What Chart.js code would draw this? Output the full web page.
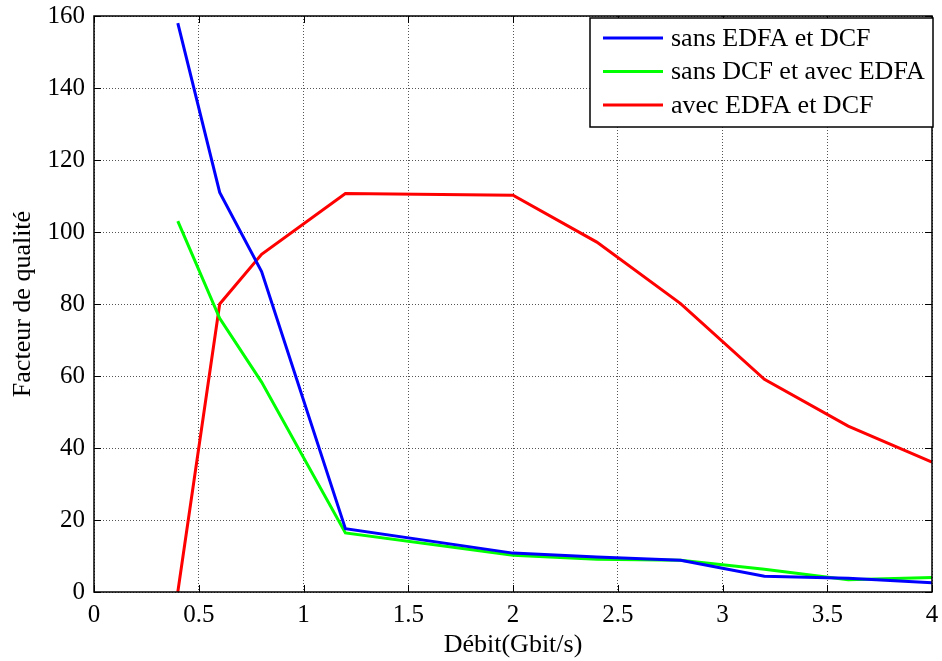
<!DOCTYPE html>
<html>
<head>
<meta charset="utf-8">
<script src="https://cdn.jsdelivr.net/npm/chart.js@4.4.1/dist/chart.umd.min.js"></script>
<style>
  html, body { margin: 0; padding: 0; background: #fff; }
  #wrap { width: 942px; height: 661px; }
</style>
</head>
<body>
<div id="wrap"><canvas id="myChart" width="942" height="661"></canvas></div>
<script>
// debit values (Gbit/s)
const debit = [0.4, 0.6, 0.8, 1.2, 2.0, 2.4, 2.8, 3.2, 3.6, 4.0];

// quality factor per configuration
const sansEdfaEtDcf = [158, 111, 89, 17.6, 10.8, 9.7, 8.8, 4.4, 3.8, 2.6];
const sansDcfAvecEdfa = [103, 76, 58.3, 16.4, 10.2, 9.1, 8.8, 6.3, 3.4, 4.0];
const avecEdfaEtDcf = [0, 80, 93.8, 110.7, 110.2, 97.2, 80.1, 59.1, 46.1, 36.1];

const seriesNames = ['sans EDFA et DCF', 'sans DCF et avec EDFA', 'avec EDFA et DCF'];
const xTicks = [0, 0.5, 1, 1.5, 2, 2.5, 3, 3.5, 4];
const yTicks = [0, 20, 40, 60, 80, 100, 120, 140, 160];

function toPoints(ys) {
    return debit.map(function (x, i) { return { x: x, y: ys[i] }; });
}

const serif = "'Liberation Serif', 'Times New Roman', serif";

// box round the plot, inner ticks, legend box (MATLAB look)
const matlabFrame = {
    id: 'matlabFrame',
    afterDatasetsDraw: function (chart) {
        const ctx = chart.ctx;
        const a = chart.chartArea;
        const xs = chart.scales.x, ys = chart.scales.y;
        ctx.save();
        ctx.strokeStyle = '#000';
        ctx.lineWidth = 1.5;
        ctx.strokeRect(a.left, a.top, a.right - a.left, a.bottom - a.top);
        ctx.lineWidth = 1;
        ctx.beginPath();
        xTicks.forEach(function (v) {
            const px = Math.round(xs.getPixelForValue(v)) + 0.5;
            ctx.moveTo(px, a.bottom); ctx.lineTo(px, a.bottom - 7);
            ctx.moveTo(px, a.top); ctx.lineTo(px, a.top + 7);
        });
        yTicks.forEach(function (v) {
            const py = Math.round(ys.getPixelForValue(v)) + 0.5;
            ctx.moveTo(a.left, py); ctx.lineTo(a.left + 7, py);
            ctx.moveTo(a.right, py); ctx.lineTo(a.right - 7, py);
        });
        ctx.stroke();

        // legend
        const lx = 590, ly = 18, lw = 343, lh = 109;
        ctx.fillStyle = '#fff';
        ctx.fillRect(lx, ly, lw, lh);
        ctx.lineWidth = 1.5;
        ctx.strokeRect(lx, ly, lw, lh);
        ctx.font = '26px ' + serif;
        ctx.textBaseline = 'middle';
        chart.data.datasets.forEach(function (ds, i) {
            const y = 38 + i * 33.5;
            ctx.strokeStyle = ds.borderColor;
            ctx.lineWidth = 3;
            ctx.beginPath();
            ctx.moveTo(603, y); ctx.lineTo(663, y);
            ctx.stroke();
            ctx.fillStyle = '#000';
            ctx.fillText(ds.label, 671, y + 1);
        });
        ctx.restore();
    }
};

const ctx = document.getElementById('myChart').getContext('2d');
new Chart(ctx, {
    type: 'line',
    data: {
        datasets: [
            { label: seriesNames[0], data: toPoints(sansEdfaEtDcf), borderColor: '#0000ff' },
            { label: seriesNames[1], data: toPoints(sansDcfAvecEdfa), borderColor: '#00ff00' },
            { label: seriesNames[2], data: toPoints(avecEdfaEtDcf), borderColor: '#ff0000' }
        ]
    },
    options: {
        responsive: false,
        animation: false,
        layout: { padding: { top: 16, right: 10, left: 0, bottom: 0 } },
        elements: {
            line: { borderWidth: 3, tension: 0, fill: false },
            point: { radius: 0 }
        },
        plugins: {
            legend: { display: false },
            tooltip: { enabled: false }
        },
        scales: {
            x: {
                type: 'linear',
                min: 0, max: 4,
                afterBuildTicks: function (scale) {
                    scale.ticks = xTicks.map(function (v) { return { value: v }; });
                },
                afterFit: function (scale) {
                    scale.height = 69;
                    scale.paddingLeft = 0;
                    scale.paddingRight = 0;
                },
                grid: { color: '#555', drawTicks: false },
                border: { display: false, dash: [1, 2] },
                ticks: {
                    color: '#000',
                    font: { family: serif, size: 25 },
                    padding: 8,
                    maxRotation: 0,
                    callback: function (v) { return String(v); }
                },
                title: {
                    display: true,
                    text: 'Débit(Gbit/s)',
                    color: '#000',
                    font: { family: serif, size: 26 },
                    padding: { top: 0, bottom: 0 }
                }
            },
            y: {
                min: 0, max: 160,
                afterBuildTicks: function (scale) {
                    scale.ticks = yTicks.map(function (v) { return { value: v }; });
                },
                afterFit: function (scale) {
                    scale.width = 94;
                    scale.paddingTop = 0;
                    scale.paddingBottom = 0;
                },
                grid: { color: '#555', drawTicks: false },
                border: { display: false, dash: [1, 2] },
                ticks: {
                    color: '#000',
                    font: { family: serif, size: 25 },
                    padding: 9
                },
                title: {
                    display: true,
                    text: 'Facteur de qualité',
                    color: '#000',
                    font: { family: serif, size: 26 },
                    padding: { top: 8, bottom: 0 }
                }
            }
        }
    },
    plugins: [matlabFrame]
});
</script>
</body>
</html>
